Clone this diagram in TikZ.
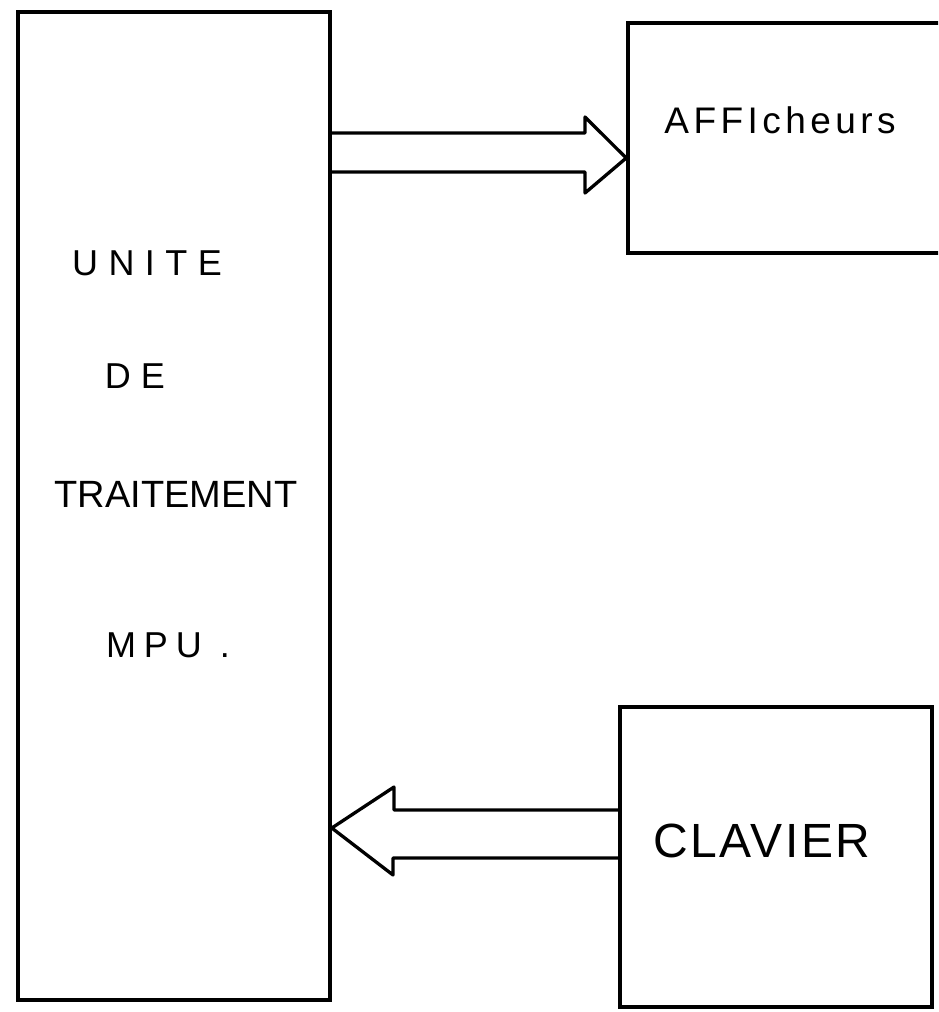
\documentclass[tikz,border=0pt]{standalone}
\usepackage{fontspec}
\setmainfont{Liberation Sans}
\begin{document}
\begin{tikzpicture}[x=1pt,y=-1pt,
  blockbox/.style={draw=black, line width=3.6pt, inner sep=0pt, fill=none},
  lbl/.style={anchor=base, inner sep=0pt, text=black},
  busarrow/.style={draw=black, line width=3.3pt, line join=round, line cap=round}]
\useasboundingbox (0,0) rectangle (938,1012);
\fill[white] (0,0) rectangle (938,1012);
\clip (0,0) rectangle (938,1012);
% blocks
\node[blockbox, minimum width=312pt, minimum height=988pt] (mpu) at (174,506) {};
\node[blockbox, minimum width=330pt, minimum height=230pt] (aff) at (793,138) {};
\node[blockbox, minimum width=312pt, minimum height=300pt] (clav) at (776,857) {};
% texts
\node[lbl, font=\fontsize{36}{40}\selectfont\addfontfeatures{LetterSpace=29}] (t1) at (147,275) {UNITE};
\node[lbl, font=\fontsize{36}{40}\selectfont\addfontfeatures{LetterSpace=28}] (t2) at (135,388) {DE};
\node[lbl, font=\fontsize{38}{42}\selectfont] (t3) at (176,507) {TRAITEMENT};
\node[lbl, font=\fontsize{36}{40}\selectfont\addfontfeatures{LetterSpace=22}] (t4) at (168,657) {MPU .};
\node[lbl, font=\fontsize{37}{42}\selectfont\addfontfeatures{LetterSpace=12}] (t5) at (780,133) {AFFIcheurs};
\node[lbl, font=\fontsize{48}{52}\selectfont\addfontfeatures{LetterSpace=5}] (t6) at (762,857) {CLAVIER};
% top bus arrow: MPU -> Afficheurs
\draw[busarrow] (mpu.east |- 0,133) -- (585,133) -- (585,117)
  -- (aff.west |- 0,158) -- (585,193) -- (585,172) -- (mpu.east |- 0,172);
% bottom bus arrow: Clavier -> MPU
\draw[busarrow] (clav.west |- 0,810) -- (394,810) -- (394,787)
  -- (mpu.east |- 0,828) -- (393,875) -- (393,858) -- (clav.west |- 0,858);
\end{tikzpicture}
\end{document}
